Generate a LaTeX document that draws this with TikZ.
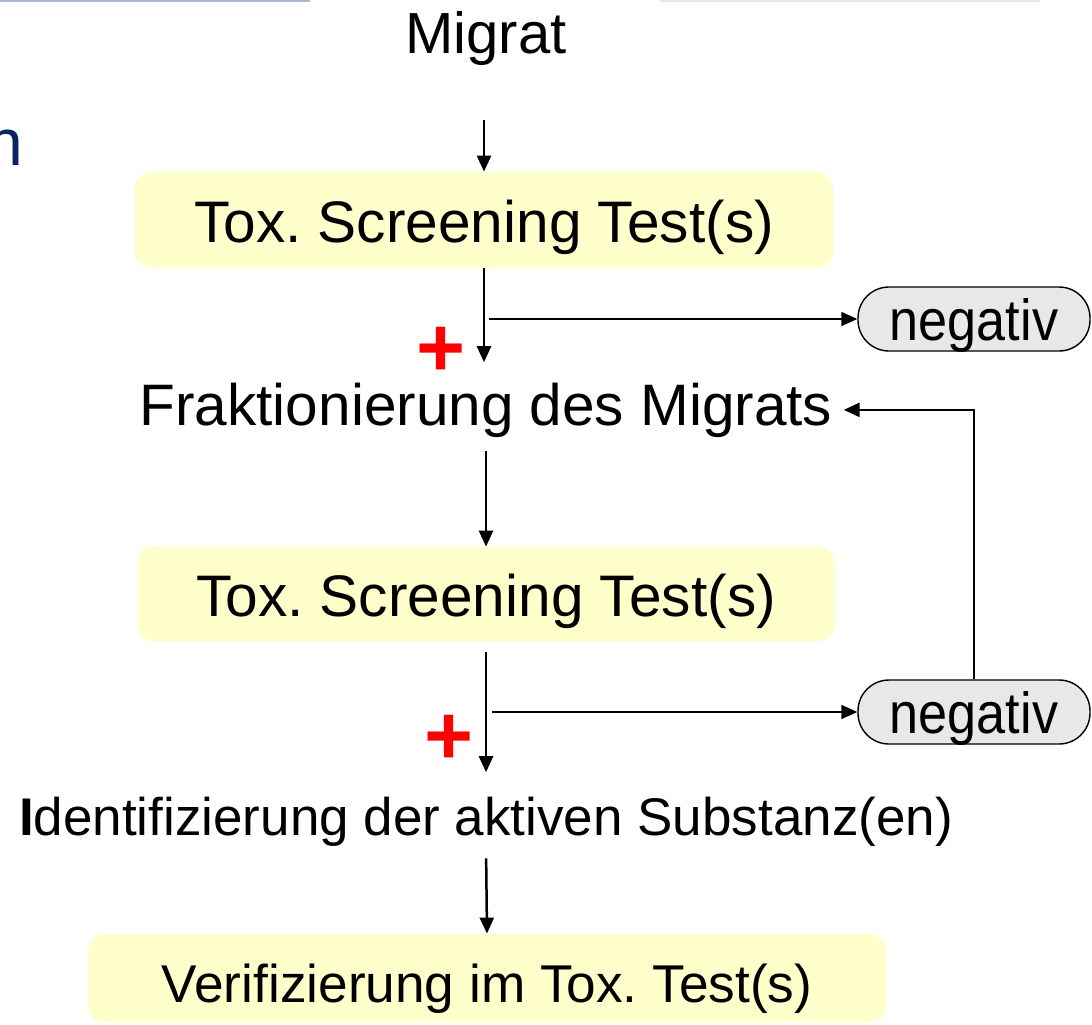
\documentclass[tikz,border=0pt]{standalone}
\usepackage{fontspec}
\usepackage{graphicx}
\setmainfont{Liberation Sans}
\usetikzlibrary{arrows.meta}
\definecolor{boxyellow}{HTML}{FFFFCC}
\definecolor{neggrey}{HTML}{E8E8E8}
\definecolor{titlenavy}{HTML}{0A2463}
\definecolor{rulea}{RGB}{170,180,215}
\definecolor{ruleb}{RGB}{230,230,238}
\frenchspacing
\begin{document}
\begin{tikzpicture}[x=0.5pt,y=-0.5pt,
  arr/.style={line width=1.25pt,-{Triangle[length=8pt,width=7pt]}},
  thinarr/.style={line width=0.8pt,-{Triangle[length=8pt,width=7pt]}},
  ybox/.style={fill=boxyellow, rounded corners=8pt, inner sep=0pt, text height=22pt, text depth=0pt, font=\fontsize{29.3}{34}\selectfont},
  negbox/.style={draw=black, line width=0.7pt, fill=neggrey, rounded corners=15.5pt, minimum width=116pt, minimum height=32pt, inner sep=0pt, text height=21pt, text depth=0pt, font=\fontsize{29}{34}\selectfont},
  plain/.style={inner sep=0pt, anchor=base},
  plus/.style={text=red, font=\fontsize{42}{42}\selectfont\bfseries, inner sep=0pt, anchor=base}
]
\useasboundingbox (0,0) rectangle (1092,1024);
\clip (0,0) rectangle (1092,1024);
\draw[line width=1pt, rulea] (0,1) -- (310,1);
\draw[line width=1pt, ruleb] (660,1) -- (1040,1);
\node[anchor=base west, inner sep=0pt, text=titlenavy, font=\fontsize{33}{40}\selectfont] (ntitle) at (-14,165) {n};

\node[plain, font=\fontsize{29}{34}\selectfont] (migrat) at (486,53) {Migrat};
\node[ybox, minimum width=349pt, minimum height=48pt] (box1) at (484,220) {Tox. Screening Test(s)};
\node[negbox] (neg1) at (974,319) {\scalebox{0.9}[1]{negativ}};
\node[plus] (plus1) at (441,376) {+};
\node[plain, font=\fontsize{29.25}{34}\selectfont] (frak) at (486,425) {Fraktionierung des Migrats};
\node[ybox, minimum width=349pt, minimum height=47pt] (box2) at (486,594) {Tox. Screening Test(s)};
\node[negbox] (neg2) at (974,712) {\scalebox{0.9}[1]{negativ}};
\node[plus] (plus2) at (449,764) {+};
\node[plain, font=\fontsize{26.5}{32}\selectfont] (ident) at (486,835) {\textbf{I}dentifizierung der aktiven Substanz(en)};
\node[ybox, minimum width=399pt, minimum height=44pt, text height=24pt, font=\fontsize{26.6}{32}\selectfont] (box3) at (487,978) {Verifizierung im Tox. Test(s)};

\draw[arr] (box1.north |- migrat.base) ++(0,67) -- (box1.north);
\draw[arr, shorten >=10pt] (box1.south) -- (box1.south |- frak.north);
\draw[thinarr] (box1.south |- neg1.west) ++(5,0) -- (neg1.west);
\draw[arr] (neg2.north) |- ([xshift=5.5pt]frak.east);
\draw[arr, shorten <=6.5pt] (frak.south) -- (box2.north);
\draw[arr, shorten <=5.5pt, shorten >=12pt] (box2.south) -- (box2.south |- ident.north);
\draw[thinarr] (box2.south |- neg2.west) ++(6,0) -- (neg2.west);
\draw[arr, shorten <=6pt] (ident.south) -- (box3.north);
\end{tikzpicture}
\end{document}
